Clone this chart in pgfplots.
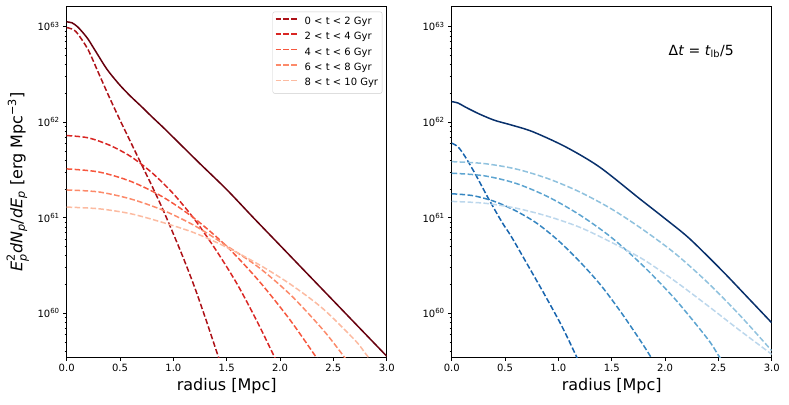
\documentclass[border=0pt]{standalone}
\usepackage{fontspec}
\setmainfont{DejaVu Sans}
\usepackage{amsmath}
\usepackage{pgfplots}
\pgfplotsset{compat=1.18}
\definecolor{redTot}{HTML}{67000D}
\definecolor{redOne}{HTML}{AD1117}
\definecolor{redTwo}{HTML}{D92623}
\definecolor{redThree}{HTML}{F6573E}
\definecolor{redFour}{HTML}{FC8A6A}
\definecolor{redFive}{HTML}{FCBBA1}
\definecolor{blueTot}{HTML}{08306B}
\definecolor{blueOne}{HTML}{1764AE}
\definecolor{blueTwo}{HTML}{3686C1}
\definecolor{blueThree}{HTML}{5EA5D1}
\definecolor{blueFour}{HTML}{90C2DE}
\definecolor{blueFive}{HTML}{BCD7EC}
\tikzset{dsh/.style={dash pattern=on 5.55pt off 2.4pt}}
\pgfplotsset{
  every axis/.append style={
    width=320pt, height=350.6pt, scale only axis,
    xmin=0, xmax=3, ymin=3.46e59, ymax=1.62e63,
    xtick={0,0.5,1,1.5,2,2.5,3},
    xticklabels={0.0,0.5,1.0,1.5,2.0,2.5,3.0},
    ytick={1e60,1e61,1e62,1e63},
    yticklabels={10\textsuperscript{60},10\textsuperscript{61},10\textsuperscript{62},10\textsuperscript{63}},
    minor ytick={4e59,5e59,6e59,7e59,8e59,9e59,
      2e60,3e60,4e60,5e60,6e60,7e60,8e60,9e60,
      2e61,3e61,4e61,5e61,6e61,7e61,8e61,9e61,
      2e62,3e62,4e62,5e62,6e62,7e62,8e62,9e62},
    tick align=outside, xtick pos=left, ytick pos=left,
    major tick length=3.5pt, minor tick length=2pt,
    tick style={black, line width=0.8pt},
    minor tick style={line width=0.6pt},
    axis line style={black, line width=0.8pt},
    tick label style={font=\fontsize{10}{12}\selectfont},
    every axis x label/.style={at={(axis description cs:0.5,0)}, anchor=base, yshift=-33.7pt,
      font=\fontsize{16}{19}\selectfont},
    no markers,
    every axis plot/.append style={line width=1.5pt},
  },
}
\begin{document}
\begin{tikzpicture}
\useasboundingbox (-66.7pt,-46.7pt) rectangle (722.3pt,357.3pt);
\begin{semilogyaxis}[at={(0pt,0pt)}, anchor=south west,
  xlabel={radius [Mpc]},
  ylabel={$\text{\textit{E}}^{\text{2}}_{\text{\textit{p}}}$\textit{dN}$_{\text{\textit{p}}}$/\textit{dE}$_{\text{\textit{p}}}$ [erg Mpc$^{\text{−3}}$]},
  every axis y label/.style={at={(axis description cs:-0.153,0.5)}, rotate=90, anchor=center,
    font=\fontsize{16}{19}\selectfont},
  legend style={at={(1,1)}, anchor=north east, xshift=-4.4pt, yshift=-5pt,
    draw=black!20, rounded corners=2pt, fill=white,
    font=\fontsize{10}{12}\selectfont, inner xsep=2pt, inner ysep=2.3pt, row sep=0pt,
    nodes={text height=7.7pt, text depth=2.7pt, inner ysep=2.5pt, inner xsep=2pt},
    /tikz/every odd column/.append style={column sep=3.7pt}},
  legend cell align=left,
  legend image code/.code={\draw[#1] (0pt,3pt) -- (22.7pt,3pt);},
]
\addlegendimage{color=redOne, dsh, line width=1.5pt}
\addlegendentry{0 < t < 2 Gyr}
\addlegendimage{color=redTwo, dsh, line width=1.5pt}
\addlegendentry{2 < t < 4 Gyr}
\addlegendimage{color=redThree, dsh, line width=1.5pt}
\addlegendentry{4 < t < 6 Gyr}
\addlegendimage{color=redFour, dsh, line width=1.5pt}
\addlegendentry{6 < t < 8 Gyr}
\addlegendimage{color=redFive, dsh, line width=1.5pt}
\addlegendentry{8 < t < 10 Gyr}
\addplot[color=redOne, dsh, smooth, forget plot] coordinates {
(0,9.77e62) (0.05,9.44e62) (0.1,8.51e62) (0.2,5.75e62) (0.3,3.24e62) (0.4,1.82e62)
(0.5,1.05e62) (0.6,6.17e61) (0.7,3.63e61) (0.8,2.14e61) (0.9,1.23e61) (1.0,6.76e60)
(1.1,3.63e60) (1.2,1.86e60) (1.3,8.91e59) (1.45,2.82e59)};
\addplot[color=redTwo, dsh, smooth, forget plot] coordinates {
(0,7.24e61) (0.2,6.86e61) (0.4,5.75e61) (0.6,4.37e61) (0.8,2.95e61) (1.0,1.78e61)
(1.2,9.55e60) (1.4,4.57e60) (1.6,2.00e60) (1.8,7.59e59) (2.0,2.63e59)};
\addplot[color=redThree, dsh, smooth, forget plot] coordinates {
(0,3.24e61) (0.3,3.01e61) (0.6,2.40e61) (0.9,1.65e61) (1.2,9.77e60) (1.5,5.01e60)
(1.8,2.19e60) (2.1,8.32e59) (2.4,2.75e59)};
\addplot[color=redFour, dsh, smooth, forget plot] coordinates {
(0,1.95e61) (0.3,1.86e61) (0.6,1.57e61) (0.9,1.20e61) (1.2,8.24e60) (1.5,5.07e60)
(1.8,3.02e60) (2.1,1.55e60) (2.4,6.76e59) (2.6,3.51e59) (2.7,2.45e59)};
\addplot[color=redFive, dsh, smooth, forget plot] coordinates {
(0,1.29e61) (0.3,1.24e61) (0.6,1.10e61) (0.9,8.91e60) (1.2,6.92e60) (1.5,4.90e60)
(1.8,3.24e60) (2.1,2.00e60) (2.4,1.12e60) (2.7,5.25e59) (2.8,3.80e59) (2.9,2.69e59)};
\addplot[color=redTot, smooth, forget plot] coordinates {
(0,1.122e63) (0.05,1.096e63) (0.1,1.000e63) (0.15,8.71e62) (0.2,7.41e62) (0.25,6.03e62)
(0.3,4.90e62) (0.35,3.98e62) (0.4,3.31e62) (0.5,2.43e62) (0.6,1.86e62) (0.7,1.46e62)
(0.8,1.135e62) (0.9,8.91e61) (1.0,6.92e61) (1.25,3.67e61) (1.5,1.97e61) (1.75,1.00e61)
(2.0,5.13e60) (2.25,2.63e60) (2.5,1.35e60) (2.75,6.92e59) (3.0,3.55e59)};
\end{semilogyaxis}
\begin{semilogyaxis}[at={(385pt,0pt)}, anchor=south west,
  xlabel={radius [Mpc]},
]
\addplot[color=blueOne, dsh, smooth] coordinates {
(0,6.03e61) (0.06,5.50e61) (0.125,4.37e61) (0.22,2.88e61) (0.34,1.62e61) (0.47,9.02e60)
(0.56,6.31e60) (0.72,3.09e60) (0.87,1.57e60) (1.03,7.41e59) (1.17,3.51e59) (1.22,2.63e59)};
\addplot[color=blueTwo, dsh, smooth] coordinates {
(0,1.78e61) (0.2,1.70e61) (0.4,1.48e61) (0.6,1.18e61) (0.8,8.71e60) (1.0,5.75e60)
(1.2,3.47e60) (1.4,1.95e60) (1.6,9.77e59) (1.8,4.57e59) (1.9,3.02e59)};
\addplot[color=blueThree, dsh, smooth] coordinates {
(0,2.92e61) (0.3,2.75e61) (0.6,2.29e61) (0.9,1.66e61) (1.2,1.07e61) (1.5,6.17e60)
(1.8,3.09e60) (2.1,1.38e60) (2.4,5.37e59) (2.5,3.63e59) (2.6,2.51e59)};
\addplot[color=blueFour, dsh, smooth] coordinates {
(0,3.86e61) (0.3,3.69e61) (0.6,3.24e61) (0.9,2.57e61) (1.2,1.86e61) (1.5,1.23e61)
(1.8,7.41e60) (2.1,4.17e60) (2.4,2.09e60) (2.7,9.55e59) (3.0,4.05e59)};
\addplot[color=blueFive, dsh, smooth] coordinates {
(0,1.48e61) (0.3,1.42e61) (0.6,1.26e61) (0.9,1.035e61) (1.2,7.94e60) (1.5,5.50e60)
(1.8,3.63e60) (2.1,2.14e60) (2.4,1.20e60) (2.7,6.61e59) (3.0,3.72e59)};
\addplot[color=blueTot, smooth] coordinates {
(0,1.64e62) (0.06,1.585e62) (0.125,1.445e62) (0.25,1.23e62) (0.4,1.047e62) (0.56,9.33e61)
(0.76,7.94e61) (1.07,5.50e61) (1.386,3.39e61) (1.76,1.585e61) (2.0,9.77e60) (2.23,6.03e60)
(2.54,2.75e60) (2.77,1.48e60) (3.0,7.94e59)};
\node[anchor=base west, font=\fontsize{14}{17}\selectfont] at (axis description cs:0.667,0.862)
  {Δ\textit{t} = \textit{t}\textsubscript{lb}/5};
\end{semilogyaxis}
\end{tikzpicture}
\end{document}
